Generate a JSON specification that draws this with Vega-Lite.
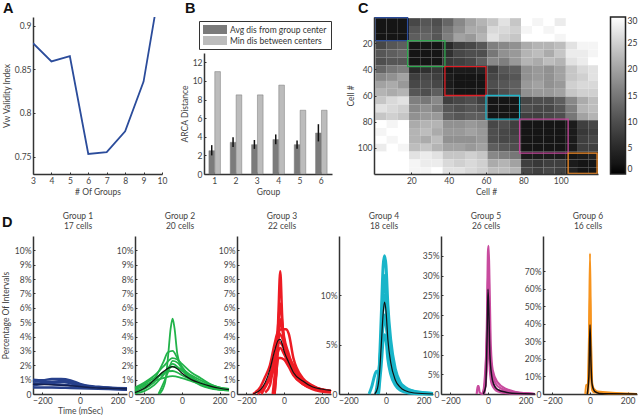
{"$schema":"https://vega.github.io/schema/vega-lite/v6.json","padding":{"left":1,"top":0,"right":0,"bottom":0},"bounds":"flush","spacing":219,"config":{"font":"Lato","view":{"stroke":null},"axis":{"grid":false,"domainColor":"#333","domainWidth":1.5,"tickColor":"#333","tickSize":-2,"labelPadding":4,"labelColor":"#444","titleColor":"#444","labelFontSize":8.5,"titleFontSize":8.5,"titleFontWeight":"normal","labelFlush":false,"labelBound":false},"legend":{"labelFontSize":8.5,"labelColor":"#333","titleFontSize":8.5}},"vconcat":[{"spacing":42,"bounds":"flush","hconcat":[{"width":129,"height":157,"title":{"text":"A","anchor":"start","frame":"group","dx":-30,"offset":1,"fontSize":14.5,"font":"Liberation Sans","fontWeight":"bold","color":"#111"},"data":{"values":[{"n":3,"i":0.88},{"n":4,"i":0.859},{"n":5,"i":0.865},{"n":6,"i":0.753},{"n":7,"i":0.755},{"n":8,"i":0.779},{"n":9,"i":0.836},{"n":10,"i":0.96}]},"mark":{"type":"line","color":"#2b4c9b","strokeWidth":1.8,"clip":true},"encoding":{"x":{"field":"n","type":"quantitative","scale":{"domain":[3,10]},"axis":{"values":[3,4,5,6,7,8,9,10],"tickCount":30,"format":"d","labelOverlap":false,"title":"# Of Groups","titlePadding":3}},"y":{"field":"i","type":"quantitative","scale":{"domain":[0.73,0.91]},"axis":{"values":[0.75,0.8,0.85,0.9],"tickCount":30,"format":"~g","labelOverlap":false,"title":"Vw Validity Index","titlePadding":3}}}},{"width":128,"height":157,"title":{"text":"B","anchor":"start","frame":"group","dx":-19,"offset":1,"fontSize":14.5,"font":"Liberation Sans","fontWeight":"bold","color":"#111"},"layer":[{"data":{"values":[{"k":1,"g":"Avg dis from group center","v":2.5},{"k":2,"g":"Avg dis from group center","v":3.4},{"k":3,"g":"Avg dis from group center","v":3.15},{"k":4,"g":"Avg dis from group center","v":3.7},{"k":5,"g":"Avg dis from group center","v":3.15},{"k":6,"g":"Avg dis from group center","v":4.4},{"k":1,"g":"Min dis between centers","v":11},{"k":2,"g":"Min dis between centers","v":8.5},{"k":3,"g":"Min dis between centers","v":8.5},{"k":4,"g":"Min dis between centers","v":9.55},{"k":5,"g":"Min dis between centers","v":6.85},{"k":6,"g":"Min dis between centers","v":6.85}]},"mark":{"type":"bar","stroke":"#777","strokeWidth":0.5},"encoding":{"x":{"field":"k","type":"ordinal","scale":{"paddingInner":0.46,"paddingOuter":0.23},"axis":{"labelAngle":0,"title":"Group","titlePadding":3}},"xOffset":{"field":"g","type":"nominal","scale":{"domain":["Avg dis from group center","Min dis between centers"],"paddingInner":0.04}},"y":{"field":"v","type":"quantitative","scale":{"domain":[0,12.58],"range":[157,36]},"axis":{"values":[0,2,4,6,8,10,12],"tickCount":30,"format":"d","labelOverlap":false,"title":"ARCA Distance","titlePadding":3}},"color":{"field":"g","type":"nominal","scale":{"domain":["Avg dis from group center","Min dis between centers"],"range":["#7b7b7b","#bcbcbc"]},"legend":{"title":null,"orient":"none","legendX":-5,"legendY":4,"symbolType":"M-1,-0.4H1V0.4H-1Z","symbolSize":576,"symbolStrokeWidth":0,"padding":4,"strokeColor":"#333","fillColor":"white","clipHeight":9,"rowPadding":2,"labelOffset":3}}}},{"data":{"values":[{"k":1,"g":"Avg dis from group center","lo":2,"hi":3.1},{"k":2,"g":"Avg dis from group center","lo":2.9,"hi":3.95},{"k":3,"g":"Avg dis from group center","lo":2.7,"hi":3.65},{"k":4,"g":"Avg dis from group center","lo":3.2,"hi":4.25},{"k":5,"g":"Avg dis from group center","lo":2.7,"hi":3.6},{"k":6,"g":"Avg dis from group center","lo":3.5,"hi":5.35}]},"mark":{"type":"rule","color":"#111","strokeWidth":1.5},"encoding":{"x":{"field":"k","type":"ordinal"},"xOffset":{"field":"g","type":"nominal"},"y":{"field":"lo","type":"quantitative"},"y2":{"field":"hi"}}}]},{"width":224,"height":157,"title":{"text":"C","anchor":"start","frame":"group","dx":-16,"offset":1,"fontSize":14.5,"font":"Liberation Sans","fontWeight":"bold","color":"#111"},"layer":[{"data":{"values":[{"x":3,"y":3,"v":2},{"x":9,"y":3,"v":2},{"x":15,"y":3,"v":2},{"x":21,"y":3,"v":9},{"x":27,"y":3,"v":11},{"x":33,"y":3,"v":10},{"x":39,"y":3,"v":13},{"x":45,"y":3,"v":17},{"x":51,"y":3,"v":20},{"x":57,"y":3,"v":22},{"x":63,"y":3,"v":24},{"x":69,"y":3,"v":27},{"x":75,"y":3,"v":24},{"x":81,"y":3,"v":30},{"x":87,"y":3,"v":29},{"x":93,"y":3,"v":30},{"x":99,"y":3,"v":28},{"x":105,"y":3,"v":30},{"x":111,"y":3,"v":30},{"x":117,"y":3,"v":30},{"x":3,"y":9,"v":2},{"x":9,"y":9,"v":2},{"x":15,"y":9,"v":2},{"x":21,"y":9,"v":11},{"x":27,"y":9,"v":12},{"x":33,"y":9,"v":11},{"x":39,"y":9,"v":15},{"x":45,"y":9,"v":18},{"x":51,"y":9,"v":21},{"x":57,"y":9,"v":21},{"x":63,"y":9,"v":26},{"x":69,"y":9,"v":26},{"x":75,"y":9,"v":25},{"x":81,"y":9,"v":29},{"x":87,"y":9,"v":30},{"x":93,"y":9,"v":29},{"x":99,"y":9,"v":30},{"x":105,"y":9,"v":30},{"x":111,"y":9,"v":30},{"x":117,"y":9,"v":30},{"x":3,"y":15,"v":2},{"x":9,"y":15,"v":2},{"x":15,"y":15,"v":2},{"x":21,"y":15,"v":12},{"x":27,"y":15,"v":13},{"x":33,"y":15,"v":11},{"x":39,"y":15,"v":16},{"x":45,"y":15,"v":20},{"x":51,"y":15,"v":19},{"x":57,"y":15,"v":22},{"x":63,"y":15,"v":27},{"x":69,"y":15,"v":25},{"x":75,"y":15,"v":24},{"x":81,"y":15,"v":30},{"x":87,"y":15,"v":30},{"x":93,"y":15,"v":30},{"x":99,"y":15,"v":29},{"x":105,"y":15,"v":30},{"x":111,"y":15,"v":30},{"x":117,"y":15,"v":30},{"x":3,"y":21,"v":9},{"x":9,"y":21,"v":11},{"x":15,"y":21,"v":12},{"x":21,"y":21,"v":2},{"x":27,"y":21,"v":2},{"x":33,"y":21,"v":2},{"x":39,"y":21,"v":5},{"x":45,"y":21,"v":8},{"x":51,"y":21,"v":9},{"x":57,"y":21,"v":11},{"x":63,"y":21,"v":16},{"x":69,"y":21,"v":17},{"x":75,"y":21,"v":18},{"x":81,"y":21,"v":21},{"x":87,"y":21,"v":22},{"x":93,"y":21,"v":22},{"x":99,"y":21,"v":23},{"x":105,"y":21,"v":27},{"x":111,"y":21,"v":29},{"x":117,"y":21,"v":29},{"x":3,"y":27,"v":11},{"x":9,"y":27,"v":12},{"x":15,"y":27,"v":13},{"x":21,"y":27,"v":2},{"x":27,"y":27,"v":2},{"x":33,"y":27,"v":2},{"x":39,"y":27,"v":6},{"x":45,"y":27,"v":9},{"x":51,"y":27,"v":10},{"x":57,"y":27,"v":10},{"x":63,"y":27,"v":15},{"x":69,"y":27,"v":18},{"x":75,"y":27,"v":19},{"x":81,"y":27,"v":22},{"x":87,"y":27,"v":23},{"x":93,"y":27,"v":21},{"x":99,"y":27,"v":24},{"x":105,"y":27,"v":28},{"x":111,"y":27,"v":28},{"x":117,"y":27,"v":29},{"x":3,"y":33,"v":10},{"x":9,"y":33,"v":11},{"x":15,"y":33,"v":11},{"x":21,"y":33,"v":2},{"x":27,"y":33,"v":2},{"x":33,"y":33,"v":2},{"x":39,"y":33,"v":7},{"x":45,"y":33,"v":8},{"x":51,"y":33,"v":9},{"x":57,"y":33,"v":12},{"x":63,"y":33,"v":17},{"x":69,"y":33,"v":16},{"x":75,"y":33,"v":19},{"x":81,"y":33,"v":22},{"x":87,"y":33,"v":21},{"x":93,"y":33,"v":23},{"x":99,"y":33,"v":22},{"x":105,"y":33,"v":27},{"x":111,"y":33,"v":28},{"x":117,"y":33,"v":30},{"x":3,"y":39,"v":13},{"x":9,"y":39,"v":15},{"x":15,"y":39,"v":16},{"x":21,"y":39,"v":5},{"x":27,"y":39,"v":6},{"x":33,"y":39,"v":7},{"x":39,"y":39,"v":2},{"x":45,"y":39,"v":3},{"x":51,"y":39,"v":3},{"x":57,"y":39,"v":4},{"x":63,"y":39,"v":8},{"x":69,"y":39,"v":11},{"x":75,"y":39,"v":12},{"x":81,"y":39,"v":18},{"x":87,"y":39,"v":19},{"x":93,"y":39,"v":18},{"x":99,"y":39,"v":20},{"x":105,"y":39,"v":24},{"x":111,"y":39,"v":26},{"x":117,"y":39,"v":27},{"x":3,"y":45,"v":17},{"x":9,"y":45,"v":18},{"x":15,"y":45,"v":20},{"x":21,"y":45,"v":8},{"x":27,"y":45,"v":9},{"x":33,"y":45,"v":8},{"x":39,"y":45,"v":3},{"x":45,"y":45,"v":2},{"x":51,"y":45,"v":2},{"x":57,"y":45,"v":2},{"x":63,"y":45,"v":9},{"x":69,"y":45,"v":10},{"x":75,"y":45,"v":11},{"x":81,"y":45,"v":18},{"x":87,"y":45,"v":19},{"x":93,"y":45,"v":18},{"x":99,"y":45,"v":20},{"x":105,"y":45,"v":24},{"x":111,"y":45,"v":25},{"x":117,"y":45,"v":27},{"x":3,"y":51,"v":20},{"x":9,"y":51,"v":21},{"x":15,"y":51,"v":19},{"x":21,"y":51,"v":9},{"x":27,"y":51,"v":10},{"x":33,"y":51,"v":9},{"x":39,"y":51,"v":3},{"x":45,"y":51,"v":2},{"x":51,"y":51,"v":2},{"x":57,"y":51,"v":2},{"x":63,"y":51,"v":10},{"x":69,"y":51,"v":11},{"x":75,"y":51,"v":12},{"x":81,"y":51,"v":19},{"x":87,"y":51,"v":20},{"x":93,"y":51,"v":18},{"x":99,"y":51,"v":19},{"x":105,"y":51,"v":25},{"x":111,"y":51,"v":26},{"x":117,"y":51,"v":26},{"x":3,"y":57,"v":22},{"x":9,"y":57,"v":21},{"x":15,"y":57,"v":22},{"x":21,"y":57,"v":11},{"x":27,"y":57,"v":10},{"x":33,"y":57,"v":12},{"x":39,"y":57,"v":4},{"x":45,"y":57,"v":2},{"x":51,"y":57,"v":2},{"x":57,"y":57,"v":2},{"x":63,"y":57,"v":8},{"x":69,"y":57,"v":10},{"x":75,"y":57,"v":12},{"x":81,"y":57,"v":18},{"x":87,"y":57,"v":19},{"x":93,"y":57,"v":19},{"x":99,"y":57,"v":20},{"x":105,"y":57,"v":24},{"x":111,"y":57,"v":25},{"x":117,"y":57,"v":25},{"x":3,"y":63,"v":24},{"x":9,"y":63,"v":26},{"x":15,"y":63,"v":27},{"x":21,"y":63,"v":16},{"x":27,"y":63,"v":15},{"x":33,"y":63,"v":17},{"x":39,"y":63,"v":8},{"x":45,"y":63,"v":9},{"x":51,"y":63,"v":10},{"x":57,"y":63,"v":8},{"x":63,"y":63,"v":2},{"x":69,"y":63,"v":2},{"x":75,"y":63,"v":2},{"x":81,"y":63,"v":9},{"x":87,"y":63,"v":10},{"x":93,"y":63,"v":10},{"x":99,"y":63,"v":12},{"x":105,"y":63,"v":17},{"x":111,"y":63,"v":21},{"x":117,"y":63,"v":23},{"x":3,"y":69,"v":27},{"x":9,"y":69,"v":26},{"x":15,"y":69,"v":25},{"x":21,"y":69,"v":17},{"x":27,"y":69,"v":18},{"x":33,"y":69,"v":16},{"x":39,"y":69,"v":11},{"x":45,"y":69,"v":10},{"x":51,"y":69,"v":11},{"x":57,"y":69,"v":10},{"x":63,"y":69,"v":2},{"x":69,"y":69,"v":2},{"x":75,"y":69,"v":2},{"x":81,"y":69,"v":10},{"x":87,"y":69,"v":9},{"x":93,"y":69,"v":9},{"x":99,"y":69,"v":11},{"x":105,"y":69,"v":16},{"x":111,"y":69,"v":22},{"x":117,"y":69,"v":23},{"x":3,"y":75,"v":24},{"x":9,"y":75,"v":25},{"x":15,"y":75,"v":24},{"x":21,"y":75,"v":18},{"x":27,"y":75,"v":19},{"x":33,"y":75,"v":19},{"x":39,"y":75,"v":12},{"x":45,"y":75,"v":11},{"x":51,"y":75,"v":12},{"x":57,"y":75,"v":12},{"x":63,"y":75,"v":2},{"x":69,"y":75,"v":2},{"x":75,"y":75,"v":2},{"x":81,"y":75,"v":8},{"x":87,"y":75,"v":8},{"x":93,"y":75,"v":9},{"x":99,"y":75,"v":10},{"x":105,"y":75,"v":15},{"x":111,"y":75,"v":20},{"x":117,"y":75,"v":22},{"x":3,"y":81,"v":30},{"x":9,"y":81,"v":29},{"x":15,"y":81,"v":30},{"x":21,"y":81,"v":21},{"x":27,"y":81,"v":22},{"x":33,"y":81,"v":22},{"x":39,"y":81,"v":18},{"x":45,"y":81,"v":18},{"x":51,"y":81,"v":19},{"x":57,"y":81,"v":18},{"x":63,"y":81,"v":9},{"x":69,"y":81,"v":10},{"x":75,"y":81,"v":8},{"x":81,"y":81,"v":2},{"x":87,"y":81,"v":2},{"x":93,"y":81,"v":2},{"x":99,"y":81,"v":2},{"x":105,"y":81,"v":3},{"x":111,"y":81,"v":8},{"x":117,"y":81,"v":9},{"x":3,"y":87,"v":29},{"x":9,"y":87,"v":30},{"x":15,"y":87,"v":30},{"x":21,"y":87,"v":22},{"x":27,"y":87,"v":23},{"x":33,"y":87,"v":21},{"x":39,"y":87,"v":19},{"x":45,"y":87,"v":19},{"x":51,"y":87,"v":20},{"x":57,"y":87,"v":19},{"x":63,"y":87,"v":10},{"x":69,"y":87,"v":9},{"x":75,"y":87,"v":8},{"x":81,"y":87,"v":2},{"x":87,"y":87,"v":2},{"x":93,"y":87,"v":2},{"x":99,"y":87,"v":2},{"x":105,"y":87,"v":3},{"x":111,"y":87,"v":7},{"x":117,"y":87,"v":8},{"x":3,"y":93,"v":30},{"x":9,"y":93,"v":29},{"x":15,"y":93,"v":30},{"x":21,"y":93,"v":22},{"x":27,"y":93,"v":21},{"x":33,"y":93,"v":23},{"x":39,"y":93,"v":18},{"x":45,"y":93,"v":18},{"x":51,"y":93,"v":18},{"x":57,"y":93,"v":19},{"x":63,"y":93,"v":10},{"x":69,"y":93,"v":9},{"x":75,"y":93,"v":9},{"x":81,"y":93,"v":2},{"x":87,"y":93,"v":2},{"x":93,"y":93,"v":2},{"x":99,"y":93,"v":2},{"x":105,"y":93,"v":3},{"x":111,"y":93,"v":8},{"x":117,"y":93,"v":9},{"x":3,"y":99,"v":28},{"x":9,"y":99,"v":30},{"x":15,"y":99,"v":29},{"x":21,"y":99,"v":23},{"x":27,"y":99,"v":24},{"x":33,"y":99,"v":22},{"x":39,"y":99,"v":20},{"x":45,"y":99,"v":20},{"x":51,"y":99,"v":19},{"x":57,"y":99,"v":20},{"x":63,"y":99,"v":12},{"x":69,"y":99,"v":11},{"x":75,"y":99,"v":10},{"x":81,"y":99,"v":2},{"x":87,"y":99,"v":2},{"x":93,"y":99,"v":2},{"x":99,"y":99,"v":2},{"x":105,"y":99,"v":3},{"x":111,"y":99,"v":8},{"x":117,"y":99,"v":8},{"x":3,"y":105,"v":30},{"x":9,"y":105,"v":30},{"x":15,"y":105,"v":30},{"x":21,"y":105,"v":27},{"x":27,"y":105,"v":28},{"x":33,"y":105,"v":27},{"x":39,"y":105,"v":24},{"x":45,"y":105,"v":24},{"x":51,"y":105,"v":25},{"x":57,"y":105,"v":24},{"x":63,"y":105,"v":17},{"x":69,"y":105,"v":16},{"x":75,"y":105,"v":15},{"x":81,"y":105,"v":3},{"x":87,"y":105,"v":3},{"x":93,"y":105,"v":3},{"x":99,"y":105,"v":3},{"x":105,"y":105,"v":2},{"x":111,"y":105,"v":3},{"x":117,"y":105,"v":4},{"x":3,"y":111,"v":30},{"x":9,"y":111,"v":30},{"x":15,"y":111,"v":30},{"x":21,"y":111,"v":29},{"x":27,"y":111,"v":28},{"x":33,"y":111,"v":28},{"x":39,"y":111,"v":26},{"x":45,"y":111,"v":25},{"x":51,"y":111,"v":26},{"x":57,"y":111,"v":25},{"x":63,"y":111,"v":21},{"x":69,"y":111,"v":22},{"x":75,"y":111,"v":20},{"x":81,"y":111,"v":8},{"x":87,"y":111,"v":7},{"x":93,"y":111,"v":8},{"x":99,"y":111,"v":8},{"x":105,"y":111,"v":3},{"x":111,"y":111,"v":2},{"x":117,"y":111,"v":2},{"x":3,"y":117,"v":30},{"x":9,"y":117,"v":30},{"x":15,"y":117,"v":30},{"x":21,"y":117,"v":29},{"x":27,"y":117,"v":29},{"x":33,"y":117,"v":30},{"x":39,"y":117,"v":27},{"x":45,"y":117,"v":27},{"x":51,"y":117,"v":26},{"x":57,"y":117,"v":25},{"x":63,"y":117,"v":23},{"x":69,"y":117,"v":23},{"x":75,"y":117,"v":22},{"x":81,"y":117,"v":9},{"x":87,"y":117,"v":8},{"x":93,"y":117,"v":9},{"x":99,"y":117,"v":8},{"x":105,"y":117,"v":4},{"x":111,"y":117,"v":2},{"x":117,"y":117,"v":2}]},"mark":{"type":"rect","clip":true},"encoding":{"x":{"field":"x","type":"quantitative","bin":{"step":6,"extent":[0.5,120.5],"nice":false},"scale":{"domain":[0.5,119.5]},"axis":{"values":[20,40,60,80,100],"tickCount":30,"labelOverlap":false,"title":"Cell #","titlePadding":3}},"y":{"field":"y","type":"quantitative","bin":{"step":6,"extent":[0.5,120.5],"nice":false},"scale":{"domain":[119.5,0.5]},"axis":{"values":[20,40,60,80,100],"tickCount":30,"labelOverlap":false,"title":"Cell #","titlePadding":2}},"color":{"field":"v","type":"quantitative","scale":{"domain":[0,30],"range":["#000000","#ffffff"]},"legend":{"title":null,"orient":"none","legendX":236.5,"legendY":0,"gradientLength":157,"gradientThickness":15,"gradientStrokeColor":"#222","gradientStrokeWidth":1.5,"values":[0,5,10,15,20,25,30],"labelOverlap":false}}}},{"data":{"values":[{"a":0.5,"b":18,"c":0.5,"d":18,"g":"1"},{"a":18,"b":38,"c":18,"d":38,"g":"2"},{"a":38,"b":60,"c":38,"d":60,"g":"3"},{"a":60,"b":78,"c":60,"d":78,"g":"4"},{"a":78,"b":104,"c":78,"d":104,"g":"5"},{"a":104,"b":119.5,"c":104,"d":119.5,"g":"6"}]},"mark":{"type":"rect","filled":false,"strokeWidth":1.3},"encoding":{"x":{"field":"a","type":"quantitative"},"x2":{"field":"b"},"y":{"field":"c","type":"quantitative"},"y2":{"field":"d"},"stroke":{"field":"g","type":"nominal","legend":null,"scale":{"domain":["1","2","3","4","5","6"],"range":["#2b4c9b","#2fa84f","#e01f26","#1fb5c9","#c2479a","#f28c28"]}}}}]}]},{"spacing":8,"bounds":"flush","title":{"text":"D","anchor":"start","frame":"group","dx":-31,"offset":-19,"fontSize":14.5,"font":"Liberation Sans","fontWeight":"bold","color":"#111"},"hconcat":[{"width":94,"height":158,"title":{"text":["Group 1","17 cells"],"frame":"group","dx":-2,"offset":6,"fontSize":8.5,"fontWeight":"normal","color":"#444","lineHeight":10},"layer":[{"data":{"values":[{"s":1,"t":-250,"p":1},{"s":1,"t":-200,"p":0.95},{"s":1,"t":-150,"p":1.05},{"s":1,"t":-100,"p":1.05},{"s":1,"t":-50,"p":0.95},{"s":1,"t":0,"p":0.7},{"s":1,"t":50,"p":0.55},{"s":1,"t":100,"p":0.5},{"s":1,"t":150,"p":0.45},{"s":1,"t":200,"p":0.4},{"s":1,"t":250,"p":0.35},{"s":2,"t":-250,"p":0.95},{"s":2,"t":-200,"p":0.85},{"s":2,"t":-150,"p":0.85},{"s":2,"t":-100,"p":0.85},{"s":2,"t":-50,"p":0.75},{"s":2,"t":0,"p":0.6},{"s":2,"t":50,"p":0.5},{"s":2,"t":100,"p":0.45},{"s":2,"t":200,"p":0.38},{"s":2,"t":250,"p":0.3},{"s":3,"t":-250,"p":0.75},{"s":3,"t":-150,"p":0.7},{"s":3,"t":-50,"p":0.6},{"s":3,"t":0,"p":0.55},{"s":3,"t":100,"p":0.42},{"s":3,"t":250,"p":0.33},{"s":4,"t":-250,"p":0.45},{"s":4,"t":-150,"p":0.45},{"s":4,"t":-50,"p":0.42},{"s":4,"t":50,"p":0.38},{"s":4,"t":150,"p":0.35},{"s":4,"t":250,"p":0.3},{"s":5,"t":-250,"p":0.6},{"s":5,"t":-150,"p":0.8},{"s":5,"t":-100,"p":0.9},{"s":5,"t":-50,"p":0.85},{"s":5,"t":0,"p":0.65},{"s":5,"t":100,"p":0.45},{"s":5,"t":250,"p":0.4}]},"mark":{"type":"line","color":"#27408b","strokeWidth":2.5,"interpolate":"monotone"},"encoding":{"x":{"field":"t","type":"quantitative","scale":{"domain":[-250,250]},"axis":{"values":[-200,0,200],"tickCount":30,"labelOverlap":false,"title":"Time (mSec)","titlePadding":2}},"y":{"field":"p","type":"quantitative","scale":{"domain":[0,10.5]},"axis":{"values":[0,1,2,3,4,5,6,7,8,9,10],"tickCount":30,"labelOverlap":false,"labelExpr":"datum.value==0?'0':datum.value+'%'","title":"Percentage Of Intervals","titlePadding":4}},"detail":{"field":"s"}}},{"data":{"values":[{"t":-250,"p":0.68},{"t":-150,"p":0.64},{"t":-50,"p":0.58},{"t":0,"p":0.52},{"t":50,"p":0.45},{"t":100,"p":0.42},{"t":200,"p":0.38},{"t":250,"p":0.35}]},"mark":{"type":"line","color":"#14204f","strokeWidth":1.5,"interpolate":"monotone"},"encoding":{"x":{"field":"t","type":"quantitative"},"y":{"field":"p","type":"quantitative"}}}]},{"width":94,"height":158,"title":{"text":["Group 2","20 cells"],"frame":"group","dx":-2,"offset":6,"fontSize":8.5,"fontWeight":"normal","color":"#444","lineHeight":10},"layer":[{"data":{"values":[{"s":1,"t":-120,"p":0},{"s":1,"t":-90,"p":0.8},{"s":1,"t":-75,"p":2.5},{"s":1,"t":-60,"p":4.6},{"s":1,"t":-50,"p":5.25},{"s":1,"t":-40,"p":4.6},{"s":1,"t":-25,"p":2.8},{"s":1,"t":0,"p":1.8},{"s":1,"t":50,"p":1},{"s":1,"t":100,"p":0.6},{"s":1,"t":150,"p":0.4},{"s":1,"t":250,"p":0.25},{"s":2,"t":-250,"p":0.2},{"s":2,"t":-200,"p":0.5},{"s":2,"t":-150,"p":1},{"s":2,"t":-100,"p":2.2},{"s":2,"t":-75,"p":2.9},{"s":2,"t":-50,"p":3},{"s":2,"t":-25,"p":2.5},{"s":2,"t":0,"p":1.9},{"s":2,"t":50,"p":1.2},{"s":2,"t":100,"p":0.7},{"s":2,"t":200,"p":0.3},{"s":2,"t":250,"p":0.25},{"s":3,"t":-250,"p":0.45},{"s":3,"t":-200,"p":0.8},{"s":3,"t":-150,"p":1.25},{"s":3,"t":-100,"p":1.9},{"s":3,"t":-50,"p":2.5},{"s":3,"t":-25,"p":2.4},{"s":3,"t":0,"p":2.1},{"s":3,"t":50,"p":1.5},{"s":3,"t":100,"p":1.1},{"s":3,"t":150,"p":0.7},{"s":3,"t":200,"p":0.45},{"s":3,"t":250,"p":0.35},{"s":4,"t":-250,"p":0.3},{"s":4,"t":-200,"p":0.6},{"s":4,"t":-150,"p":0.9},{"s":4,"t":-100,"p":1.1},{"s":4,"t":-50,"p":1.25},{"s":4,"t":0,"p":1.1},{"s":4,"t":50,"p":0.9},{"s":4,"t":100,"p":0.7},{"s":4,"t":150,"p":0.55},{"s":4,"t":200,"p":0.4},{"s":4,"t":250,"p":0.3},{"s":5,"t":-250,"p":0.05},{"s":5,"t":-200,"p":0.2},{"s":5,"t":-150,"p":0.6},{"s":5,"t":-100,"p":1.3},{"s":5,"t":-50,"p":2.1},{"s":5,"t":0,"p":1.6},{"s":5,"t":50,"p":1.2},{"s":5,"t":100,"p":0.8},{"s":5,"t":150,"p":0.5},{"s":5,"t":200,"p":0.35},{"s":5,"t":250,"p":0.3},{"s":6,"t":-250,"p":0.1},{"s":6,"t":-200,"p":0.35},{"s":6,"t":-150,"p":0.8},{"s":6,"t":-100,"p":1.5},{"s":6,"t":-50,"p":1.6},{"s":6,"t":-25,"p":1.5},{"s":6,"t":0,"p":1.3},{"s":6,"t":50,"p":1},{"s":6,"t":100,"p":0.8},{"s":6,"t":150,"p":0.6},{"s":6,"t":200,"p":0.45},{"s":6,"t":250,"p":0.35},{"s":7,"t":-125,"p":0},{"s":7,"t":-100,"p":0.7},{"s":7,"t":-75,"p":1.5},{"s":7,"t":-50,"p":2.3},{"s":7,"t":-25,"p":2.2},{"s":7,"t":0,"p":1.8},{"s":7,"t":50,"p":1.1},{"s":7,"t":100,"p":0.7},{"s":7,"t":200,"p":0.3},{"s":7,"t":250,"p":0.25},{"s":8,"t":-250,"p":0.4},{"s":8,"t":-200,"p":0.7},{"s":8,"t":-150,"p":1.1},{"s":8,"t":-100,"p":1.4},{"s":8,"t":-50,"p":1.9},{"s":8,"t":0,"p":1.7},{"s":8,"t":50,"p":1.3},{"s":8,"t":100,"p":0.95},{"s":8,"t":150,"p":0.65},{"s":8,"t":250,"p":0.3}]},"mark":{"type":"line","color":"#22b34a","strokeWidth":1.8,"interpolate":"monotone"},"encoding":{"x":{"field":"t","type":"quantitative","scale":{"domain":[-250,250]},"axis":{"values":[-200,0,200],"tickCount":30,"labelOverlap":false,"title":null}},"y":{"field":"p","type":"quantitative","scale":{"domain":[0,10.5]},"axis":{"values":[0,1,2,3,4,5,6,7,8,9,10],"tickCount":30,"labelOverlap":false,"labelExpr":"datum.value==0?'0':datum.value+'%'","title":null}},"detail":{"field":"s"}}},{"data":{"values":[{"t":-250,"p":0.1},{"t":-200,"p":0.4},{"t":-150,"p":0.95},{"t":-100,"p":1.55},{"t":-50,"p":1.9},{"t":-25,"p":1.75},{"t":0,"p":1.45},{"t":50,"p":1},{"t":100,"p":0.75},{"t":150,"p":0.55},{"t":200,"p":0.4},{"t":250,"p":0.3}]},"mark":{"type":"line","color":"#111","strokeWidth":1.2,"interpolate":"monotone"},"encoding":{"x":{"field":"t","type":"quantitative"},"y":{"field":"p","type":"quantitative"}}}]},{"width":94,"height":158,"title":{"text":["Group 3","22 cells"],"frame":"group","dx":-2,"offset":6,"fontSize":8.5,"fontWeight":"normal","color":"#444","lineHeight":10},"layer":[{"data":{"values":[{"s":1,"t":-50,"p":0},{"s":1,"t":-40,"p":2},{"s":1,"t":-30,"p":5.5},{"s":1,"t":-20,"p":8.55},{"s":1,"t":-10,"p":5.5},{"s":1,"t":0,"p":3.5},{"s":1,"t":25,"p":2.2},{"s":1,"t":50,"p":1.4},{"s":1,"t":100,"p":0.7},{"s":1,"t":150,"p":0.4},{"s":1,"t":250,"p":0.15},{"s":2,"t":-60,"p":0},{"s":2,"t":-45,"p":2},{"s":2,"t":-30,"p":5},{"s":2,"t":-20,"p":6.3},{"s":2,"t":-10,"p":5},{"s":2,"t":0,"p":4},{"s":2,"t":25,"p":2.8},{"s":2,"t":50,"p":1.8},{"s":2,"t":100,"p":0.8},{"s":2,"t":250,"p":0.15},{"s":3,"t":-165,"p":0},{"s":3,"t":-125,"p":0.5},{"s":3,"t":-100,"p":1.2},{"s":3,"t":-75,"p":2},{"s":3,"t":-50,"p":3.5},{"s":3,"t":-30,"p":4.4},{"s":3,"t":-10,"p":4.5},{"s":3,"t":10,"p":4.5},{"s":3,"t":25,"p":4.2},{"s":3,"t":50,"p":2.5},{"s":3,"t":100,"p":1.1},{"s":3,"t":150,"p":0.6},{"s":3,"t":200,"p":0.3},{"s":3,"t":250,"p":0.2},{"s":4,"t":-55,"p":0},{"s":4,"t":-45,"p":1},{"s":4,"t":-30,"p":2.5},{"s":4,"t":-20,"p":2.5},{"s":4,"t":0,"p":2.4},{"s":4,"t":25,"p":1.9},{"s":4,"t":50,"p":1.3},{"s":4,"t":100,"p":0.7},{"s":4,"t":150,"p":0.35},{"s":4,"t":250,"p":0.1},{"s":5,"t":-100,"p":0.1},{"s":5,"t":-75,"p":0.6},{"s":5,"t":-50,"p":2.5},{"s":5,"t":-25,"p":4.2},{"s":5,"t":0,"p":3.6},{"s":5,"t":25,"p":2.5},{"s":5,"t":50,"p":1.7},{"s":5,"t":100,"p":0.9},{"s":5,"t":150,"p":0.5},{"s":5,"t":200,"p":0.3},{"s":5,"t":250,"p":0.2},{"s":6,"t":-140,"p":0},{"s":6,"t":-100,"p":0.6},{"s":6,"t":-75,"p":1.3},{"s":6,"t":-50,"p":2.6},{"s":6,"t":-25,"p":3.6},{"s":6,"t":0,"p":3.2},{"s":6,"t":25,"p":2.6},{"s":6,"t":50,"p":2},{"s":6,"t":100,"p":1},{"s":6,"t":150,"p":0.5},{"s":6,"t":250,"p":0.2},{"s":7,"t":-50,"p":0},{"s":7,"t":-40,"p":1.5},{"s":7,"t":-30,"p":3.5},{"s":7,"t":-20,"p":5.2},{"s":7,"t":-10,"p":4.6},{"s":7,"t":0,"p":3.8},{"s":7,"t":25,"p":2.4},{"s":7,"t":50,"p":1.6},{"s":7,"t":100,"p":0.8},{"s":7,"t":250,"p":0.2},{"s":8,"t":-120,"p":0},{"s":8,"t":-90,"p":0.7},{"s":8,"t":-60,"p":1.5},{"s":8,"t":-40,"p":2.6},{"s":8,"t":-20,"p":3.2},{"s":8,"t":0,"p":2.8},{"s":8,"t":25,"p":2.1},{"s":8,"t":50,"p":1.5},{"s":8,"t":100,"p":0.85},{"s":8,"t":250,"p":0.2}]},"mark":{"type":"line","color":"#ed1c24","strokeWidth":2.5,"interpolate":"monotone"},"encoding":{"x":{"field":"t","type":"quantitative","scale":{"domain":[-250,250]},"axis":{"values":[-200,0,200],"tickCount":30,"labelOverlap":false,"title":null}},"y":{"field":"p","type":"quantitative","scale":{"domain":[0,10.5]},"axis":{"values":[0,1,2,3,4,5,6,7,8,9,10],"tickCount":30,"labelOverlap":false,"labelExpr":"datum.value==0?'0':datum.value+'%'","title":null}},"detail":{"field":"s"}}},{"data":{"values":[{"t":-165,"p":0},{"t":-125,"p":0.3},{"t":-100,"p":0.8},{"t":-75,"p":1.7},{"t":-50,"p":3},{"t":-30,"p":3.75},{"t":-20,"p":3.8},{"t":-10,"p":3.5},{"t":0,"p":3},{"t":25,"p":2.2},{"t":50,"p":1.5},{"t":100,"p":0.9},{"t":150,"p":0.5},{"t":200,"p":0.35},{"t":250,"p":0.25}]},"mark":{"type":"line","color":"#111","strokeWidth":1.2,"interpolate":"monotone"},"encoding":{"x":{"field":"t","type":"quantitative"},"y":{"field":"p","type":"quantitative"}}}]},{"width":94,"height":158,"title":{"text":["Group 4","18 cells"],"frame":"group","dx":-2,"offset":6,"fontSize":8.5,"fontWeight":"normal","color":"#444","lineHeight":10},"layer":[{"data":{"values":[{"s":1,"t":-45,"p":0},{"s":1,"t":-35,"p":3},{"s":1,"t":-25,"p":8},{"s":1,"t":-15,"p":13},{"s":1,"t":-8,"p":14},{"s":1,"t":0,"p":13},{"s":1,"t":10,"p":9},{"s":1,"t":25,"p":5.5},{"s":1,"t":50,"p":2.5},{"s":1,"t":75,"p":1.2},{"s":1,"t":100,"p":0.7},{"s":1,"t":150,"p":0.25},{"s":1,"t":200,"p":0.1},{"s":1,"t":250,"p":0.05},{"s":2,"t":-40,"p":0},{"s":2,"t":-25,"p":3},{"s":2,"t":-15,"p":5.5},{"s":2,"t":-8,"p":6},{"s":2,"t":0,"p":5.5},{"s":2,"t":10,"p":3.5},{"s":2,"t":25,"p":2},{"s":2,"t":50,"p":0.9},{"s":2,"t":75,"p":0.4},{"s":2,"t":100,"p":0.2},{"s":2,"t":150,"p":0.05},{"s":2,"t":250,"p":0},{"s":3,"t":-40,"p":0},{"s":3,"t":-25,"p":6},{"s":3,"t":-15,"p":11},{"s":3,"t":-8,"p":12},{"s":3,"t":0,"p":10},{"s":3,"t":10,"p":7},{"s":3,"t":25,"p":4.2},{"s":3,"t":50,"p":2},{"s":3,"t":75,"p":1},{"s":3,"t":100,"p":0.5},{"s":3,"t":150,"p":0.15},{"s":3,"t":250,"p":0.05},{"s":4,"t":-55,"p":0},{"s":4,"t":-30,"p":4},{"s":4,"t":-15,"p":9},{"s":4,"t":-8,"p":10},{"s":4,"t":0,"p":9},{"s":4,"t":10,"p":6},{"s":4,"t":25,"p":3.8},{"s":4,"t":50,"p":1.7},{"s":4,"t":100,"p":0.5},{"s":4,"t":250,"p":0.05},{"s":5,"t":-90,"p":0},{"s":5,"t":-75,"p":0.8},{"s":5,"t":-60,"p":1.9},{"s":5,"t":-50,"p":2.3},{"s":5,"t":-40,"p":2.2},{"s":5,"t":-30,"p":3},{"s":5,"t":-20,"p":6},{"s":5,"t":-8,"p":8},{"s":5,"t":0,"p":7},{"s":5,"t":25,"p":3},{"s":5,"t":50,"p":1.2},{"s":5,"t":100,"p":0.3},{"s":5,"t":250,"p":0}]},"mark":{"type":"line","color":"#19b5c9","strokeWidth":3,"interpolate":"monotone"},"encoding":{"x":{"field":"t","type":"quantitative","scale":{"domain":[-250,250]},"axis":{"values":[-200,0,200],"tickCount":30,"labelOverlap":false,"title":null}},"y":{"field":"p","type":"quantitative","scale":{"domain":[0,14.8]},"axis":{"values":[0,5,10],"tickCount":30,"labelOverlap":false,"labelExpr":"datum.value==0?'0':datum.value+'%'","title":null}},"detail":{"field":"s"}}},{"data":{"values":[{"t":-60,"p":0},{"t":-45,"p":0.6},{"t":-35,"p":2},{"t":-25,"p":5},{"t":-15,"p":8.2},{"t":-8,"p":9.3},{"t":0,"p":8.4},{"t":10,"p":5.5},{"t":25,"p":3.2},{"t":50,"p":1.4},{"t":75,"p":0.7},{"t":100,"p":0.35},{"t":150,"p":0.1},{"t":250,"p":0}]},"mark":{"type":"line","color":"#111","strokeWidth":1.2,"interpolate":"monotone"},"encoding":{"x":{"field":"t","type":"quantitative"},"y":{"field":"p","type":"quantitative"}}}]},{"width":94,"height":158,"title":{"text":["Group 5","26 cells"],"frame":"group","dx":-2,"offset":6,"fontSize":8.5,"fontWeight":"normal","color":"#444","lineHeight":10},"layer":[{"data":{"values":[{"s":1,"t":-30,"p":0},{"s":1,"t":-15,"p":3},{"s":1,"t":-5,"p":20},{"s":1,"t":0,"p":36},{"s":1,"t":3,"p":37.5},{"s":1,"t":8,"p":28},{"s":1,"t":15,"p":12},{"s":1,"t":25,"p":6},{"s":1,"t":50,"p":3},{"s":1,"t":100,"p":1.2},{"s":1,"t":150,"p":0.5},{"s":1,"t":200,"p":0.2},{"s":1,"t":250,"p":0},{"s":2,"t":-20,"p":0},{"s":2,"t":-5,"p":8},{"s":2,"t":0,"p":16},{"s":2,"t":5,"p":12},{"s":2,"t":10,"p":6},{"s":2,"t":20,"p":2.5},{"s":2,"t":50,"p":0.7},{"s":2,"t":100,"p":0.2},{"s":2,"t":250,"p":0},{"s":3,"t":-25,"p":0},{"s":3,"t":-5,"p":16},{"s":3,"t":0,"p":31},{"s":3,"t":5,"p":25},{"s":3,"t":10,"p":13},{"s":3,"t":20,"p":6},{"s":3,"t":50,"p":2},{"s":3,"t":100,"p":0.8},{"s":3,"t":150,"p":0.3},{"s":3,"t":250,"p":0},{"s":4,"t":-60,"p":0},{"s":4,"t":-55,"p":2},{"s":4,"t":-50,"p":2},{"s":4,"t":-45,"p":0.5},{"s":4,"t":-30,"p":0},{"s":4,"t":-15,"p":2},{"s":4,"t":-5,"p":14},{"s":4,"t":0,"p":28},{"s":4,"t":5,"p":20},{"s":4,"t":10,"p":9},{"s":4,"t":20,"p":4},{"s":4,"t":50,"p":1},{"s":4,"t":250,"p":0}]},"mark":{"type":"line","color":"#c84b9e","strokeWidth":2.2,"interpolate":"monotone"},"encoding":{"x":{"field":"t","type":"quantitative","scale":{"domain":[-250,250]},"axis":{"values":[-200,0,200],"tickCount":30,"labelOverlap":false,"title":null}},"y":{"field":"p","type":"quantitative","scale":{"domain":[0,39.3]},"axis":{"values":[0,5,10,15,20,25,30,35],"tickCount":30,"labelOverlap":false,"labelExpr":"datum.value==0?'0':datum.value+'%'","title":null}},"detail":{"field":"s"}}},{"data":{"values":[{"t":-25,"p":0},{"t":-12,"p":2},{"t":-5,"p":14},{"t":0,"p":26.5},{"t":5,"p":20},{"t":10,"p":10},{"t":20,"p":4.5},{"t":30,"p":2.5},{"t":50,"p":1.2},{"t":100,"p":0.4},{"t":150,"p":0.1},{"t":250,"p":0}]},"mark":{"type":"line","color":"#1a1020","strokeWidth":1.5,"interpolate":"monotone"},"encoding":{"x":{"field":"t","type":"quantitative"},"y":{"field":"p","type":"quantitative"}}}]},{"width":94,"height":158,"title":{"text":["Group 6","16 cells"],"frame":"group","dx":-2,"offset":6,"fontSize":8.5,"fontWeight":"normal","color":"#444","lineHeight":10},"layer":[{"data":{"values":[{"s":1,"t":-12,"p":0},{"s":1,"t":-5,"p":35},{"s":1,"t":0,"p":80},{"s":1,"t":5,"p":35},{"s":1,"t":12,"p":5},{"s":1,"t":25,"p":2.5},{"s":1,"t":50,"p":0.8},{"s":1,"t":100,"p":0.2},{"s":1,"t":250,"p":0},{"s":2,"t":-10,"p":0},{"s":2,"t":-5,"p":10},{"s":2,"t":0,"p":22},{"s":2,"t":5,"p":10},{"s":2,"t":12,"p":2},{"s":2,"t":25,"p":0.8},{"s":2,"t":250,"p":0},{"s":3,"t":-25,"p":0},{"s":3,"t":-20,"p":5},{"s":3,"t":-12,"p":5.5},{"s":3,"t":-8,"p":10},{"s":3,"t":0,"p":60},{"s":3,"t":6,"p":25},{"s":3,"t":12,"p":6},{"s":3,"t":25,"p":1.5},{"s":3,"t":250,"p":0}]},"mark":{"type":"line","color":"#f7941e","strokeWidth":2,"interpolate":"monotone"},"encoding":{"x":{"field":"t","type":"quantitative","scale":{"domain":[-250,250]},"axis":{"values":[-200,0,200],"tickCount":30,"labelOverlap":false,"title":null}},"y":{"field":"p","type":"quantitative","scale":{"domain":[0,85]},"axis":{"values":[0,10,20,30,40,50,60,70],"tickCount":30,"labelOverlap":false,"labelExpr":"datum.value==0?'0':datum.value+'%'","title":null}},"detail":{"field":"s"}}},{"data":{"values":[{"t":-15,"p":0},{"t":-6,"p":10},{"t":0,"p":39.5},{"t":6,"p":15},{"t":12,"p":5},{"t":25,"p":1.5},{"t":50,"p":0.3},{"t":100,"p":0.1},{"t":250,"p":0}]},"mark":{"type":"line","color":"#1a1008","strokeWidth":1.5,"interpolate":"monotone"},"encoding":{"x":{"field":"t","type":"quantitative"},"y":{"field":"p","type":"quantitative"}}}]}]}],"resolve":{"scale":{"color":"independent"}}}
